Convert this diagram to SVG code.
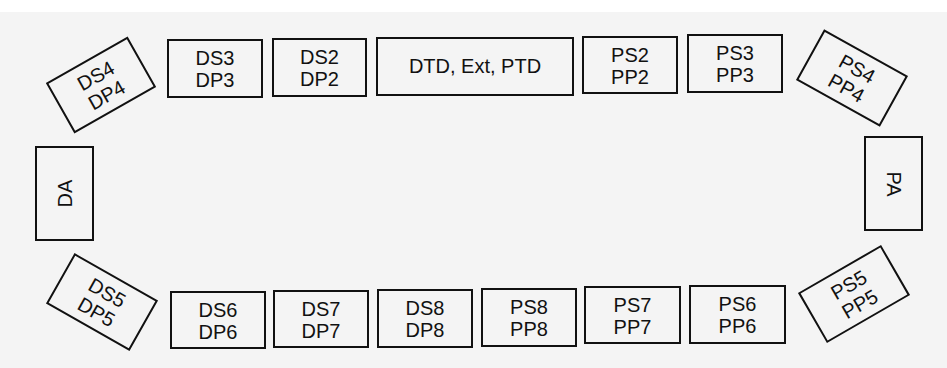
<svg xmlns="http://www.w3.org/2000/svg" width="947" height="368" viewBox="0 0 947 368">
<style>
.b{fill:none;stroke:#111;stroke-width:2}
.t{font-family:"Liberation Sans",Arial,sans-serif;font-size:20px;fill:#111;text-anchor:middle}
</style>
<rect x="0" y="0" width="947" height="368" fill="#fff"/>
<rect x="0" y="12" width="947" height="356" fill="#f4f4f4"/>
<g id="DS4" transform="translate(101,85) rotate(-29.5)"><rect class="b" x="-46" y="-28" width="92" height="56"/><text class="t" y="-3.5">DS4</text><text class="t" y="18.5">DP4</text></g>
<g id="DS3"><rect class="b" x="168" y="40" width="94" height="57"/><text class="t" x="215" y="65">DS3</text><text class="t" x="215" y="87">DP3</text></g>
<g id="DS2"><rect class="b" x="273" y="39" width="93" height="57"/><text class="t" x="319.5" y="64">DS2</text><text class="t" x="319.5" y="86">DP2</text></g>
<g id="DTD"><rect class="b" x="377" y="38" width="196" height="57"/><text class="t" x="475" y="73">DTD, Ext, PTD</text></g>
<g id="PS2"><rect class="b" x="583" y="37" width="94" height="56"/><text class="t" x="630" y="62">PS2</text><text class="t" x="630" y="84">PP2</text></g>
<g id="PS3"><rect class="b" x="688" y="35" width="94" height="57"/><text class="t" x="735" y="60">PS3</text><text class="t" x="735" y="82">PP3</text></g>
<g id="PS4" transform="translate(852,78) rotate(29)"><rect class="b" x="-47" y="-28" width="94" height="56"/><text class="t" y="-3.5">PS4</text><text class="t" y="18.5">PP4</text></g>
<g id="DA"><rect class="b" x="36" y="147" width="57" height="93"/><text class="t" transform="translate(64.5,193.5) rotate(-90)" y="7">DA</text></g>
<g id="PA"><rect class="b" x="865" y="137" width="57" height="93"/><text class="t" transform="translate(893.5,184) rotate(90)" y="7">PA</text></g>
<g id="DS5" transform="translate(102,302) rotate(29.5)"><rect class="b" x="-47" y="-28" width="94" height="56"/><text class="t" y="-3.5">DS5</text><text class="t" y="18.5">DP5</text></g>
<g id="DS6"><rect class="b" x="171" y="292" width="94" height="56"/><text class="t" x="218" y="317">DS6</text><text class="t" x="218" y="339">DP6</text></g>
<g id="DS7"><rect class="b" x="274" y="291" width="94" height="56"/><text class="t" x="321" y="316">DS7</text><text class="t" x="321" y="338">DP7</text></g>
<g id="DS8"><rect class="b" x="378" y="290" width="94" height="57"/><text class="t" x="425" y="315">DS8</text><text class="t" x="425" y="337">DP8</text></g>
<g id="PS8"><rect class="b" x="482" y="289" width="94" height="57"/><text class="t" x="529" y="314">PS8</text><text class="t" x="529" y="336">PP8</text></g>
<g id="PS7"><rect class="b" x="585" y="287" width="95" height="56"/><text class="t" x="632.5" y="312">PS7</text><text class="t" x="632.5" y="334">PP7</text></g>
<g id="PS6"><rect class="b" x="690" y="286" width="95" height="57"/><text class="t" x="737.5" y="311">PS6</text><text class="t" x="737.5" y="333">PP6</text></g>
<g id="PS5" transform="translate(854,294) rotate(-30)"><rect class="b" x="-47" y="-28" width="94" height="56"/><text class="t" y="-3.5">PS5</text><text class="t" y="18.5">PP5</text></g>
<g id="connectors"></g>
</svg>
